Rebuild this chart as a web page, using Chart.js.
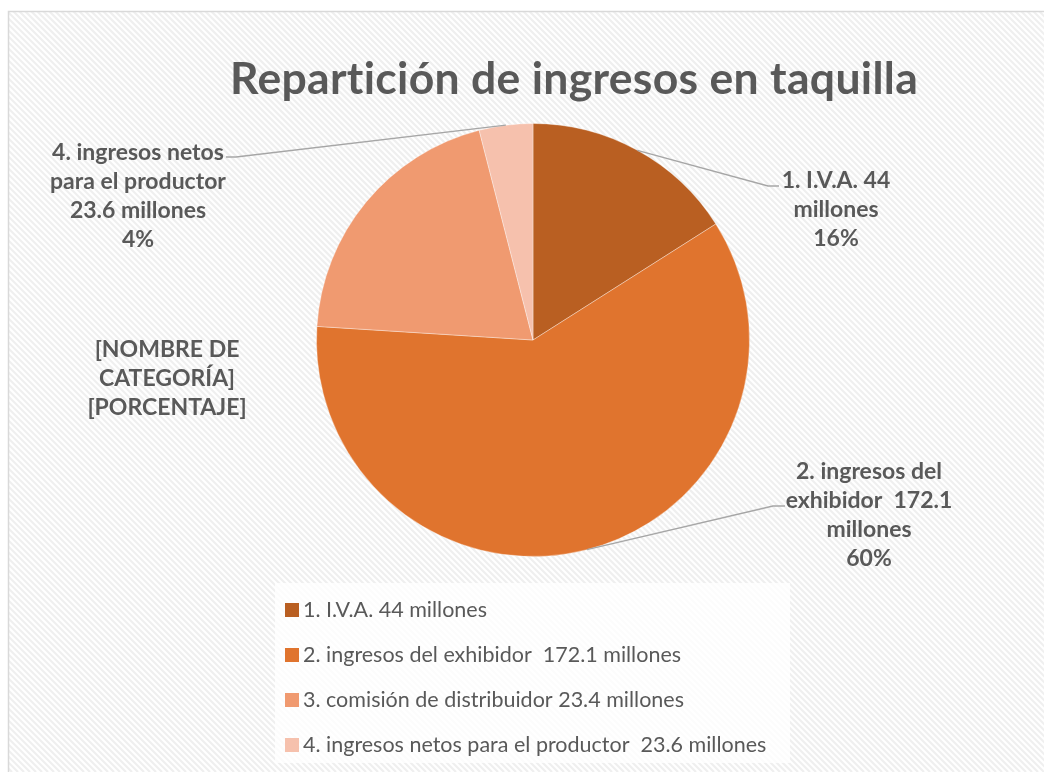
<!DOCTYPE html>
<html><head><meta charset="utf-8">
<script src="https://cdn.jsdelivr.net/npm/chart.js@4"></script>
<style>html,body{margin:0;padding:0;background:#fff}#wrap{width:1044px;height:772px;position:relative}canvas{display:block}</style>
</head><body><div id="wrap"><canvas id="c" width="1044" height="772"></canvas></div>
<script>
const titleText = 'Repartición de ingresos en taquilla';
const categories = [
  '1. I.V.A. 44 millones',
  '2. ingresos del exhibidor  172.1 millones',
  '3. comisión de distribuidor 23.4 millones',
  '4. ingresos netos para el productor  23.6 millones'
];
const shares = [16, 60, 20, 4];
const dataLabelLines = [
  ['1. I.V.A. 44', 'millones', '16%'],
  ['2. ingresos del', 'exhibidor  172.1', 'millones', '60%'],
  ['[NOMBRE DE', 'CATEGORÍA]', '[PORCENTAJE]'],
  ['4. ingresos netos', 'para el productor', '23.6 millones', '4%']
];
const sliceColors = ['#B95F22', '#E0742E', '#F09A70', '#F6C1AD'];

// label layout (center x, first line y, leader elbow, leader end)
const labelLayout = [
  {cx: 836, y: 181, elbow: [768, 186], end: [779, 186]},
  {cx: 869, y: 472, elbow: [773, 506], end: [785, 506]},
  {cx: 167, y: 350, elbow: null, end: null},
  {cx: 138, y: 153, elbow: [236, 157], end: [226, 157]}
];

const TEXT = '#595959';
const FONT = 'Lato, "Open Sans", sans-serif';

const bgPlugin = {
  id: 'bg',
  beforeDraw(chart) {
    const ctx = chart.ctx;
    const W = chart.width, H = chart.height;
    ctx.save();
    ctx.fillStyle = '#ffffff';
    ctx.fillRect(0, 0, W, H);
    ctx.beginPath();
    ctx.rect(8, 11, W, H);
    ctx.clip();
    ctx.strokeStyle = '#efefef';
    ctx.lineWidth = 2.2;
    for (let k = -H; k < W + 10; k += 6) {
      ctx.beginPath();
      ctx.moveTo(k, 0);
      ctx.lineTo(k + H, H);
      ctx.stroke();
    }
    ctx.restore();
    ctx.save();
    ctx.strokeStyle = '#d9d9d9';
    ctx.lineWidth = 1.5;
    ctx.beginPath();
    ctx.moveTo(8.5, H + 5);
    ctx.lineTo(8.5, 11.5);
    ctx.lineTo(W + 5, 11.5);
    ctx.stroke();
    // title
    ctx.fillStyle = TEXT;
    ctx.font = 'bold 44.5px ' + FONT;
    if ('letterSpacing' in ctx) ctx.letterSpacing = '0.3px';
    ctx.textAlign = 'center';
    ctx.textBaseline = 'alphabetic';
    ctx.fillText(titleText, 574, 94);
    if ('letterSpacing' in ctx) ctx.letterSpacing = '0px';
    // legend box
    ctx.fillStyle = 'rgba(255,255,255,0.8)';
    ctx.fillRect(275, 583, 515, 180);
    ctx.restore();
  },
  afterDraw(chart) {
    const ctx = chart.ctx;
    const meta = chart.getDatasetMeta(0);
    ctx.save();
    // leader lines
    ctx.strokeStyle = '#a6a6a6';
    ctx.lineWidth = 1.3;
    meta.data.forEach((arc, i) => {
      const L = labelLayout[i];
      if (!L.elbow) return;
      const mid = (arc.startAngle + arc.endAngle) / 2;
      const ex = arc.x + Math.cos(mid) * arc.outerRadius;
      const ey = arc.y + Math.sin(mid) * arc.outerRadius;
      ctx.beginPath();
      ctx.moveTo(ex, ey);
      ctx.lineTo(L.elbow[0], L.elbow[1]);
      ctx.lineTo(L.end[0], L.end[1]);
      ctx.stroke();
    });
    // data labels
    ctx.fillStyle = TEXT;
    ctx.font = 'bold 23px ' + FONT;
    ctx.textAlign = 'center';
    ctx.textBaseline = 'middle';
    dataLabelLines.forEach((lines, i) => {
      const L = labelLayout[i];
      lines.forEach((t, j) => ctx.fillText(t, L.cx, L.y + j * 29));
    });
    // legend
    ctx.textAlign = 'left';
    ctx.font = '21.5px ' + FONT;
    categories.forEach((c, i) => {
      const y = 610 + i * 45;
      ctx.fillStyle = sliceColors[i];
      ctx.fillRect(285, y - 7, 14, 14);
      ctx.fillStyle = TEXT;
      ctx.fillText(c, 303, y);
    });
    ctx.restore();
  }
};

new Chart(document.getElementById('c'), {
  type: 'pie',
  data: {
    labels: categories,
    datasets: [{
      data: shares,
      backgroundColor: sliceColors,
      borderColor: 'rgba(255,255,255,0.35)',
      borderWidth: 1
    }]
  },
  options: {
    responsive: false,
    animation: false,
    devicePixelRatio: 1,
    layout: {padding: {top: 123, bottom: 215, left: 316, right: 294}},
    plugins: {
      legend: {display: false},
      title: {display: false},
      tooltip: {enabled: false}
    }
  },
  plugins: [bgPlugin]
});
</script>
</body></html>
